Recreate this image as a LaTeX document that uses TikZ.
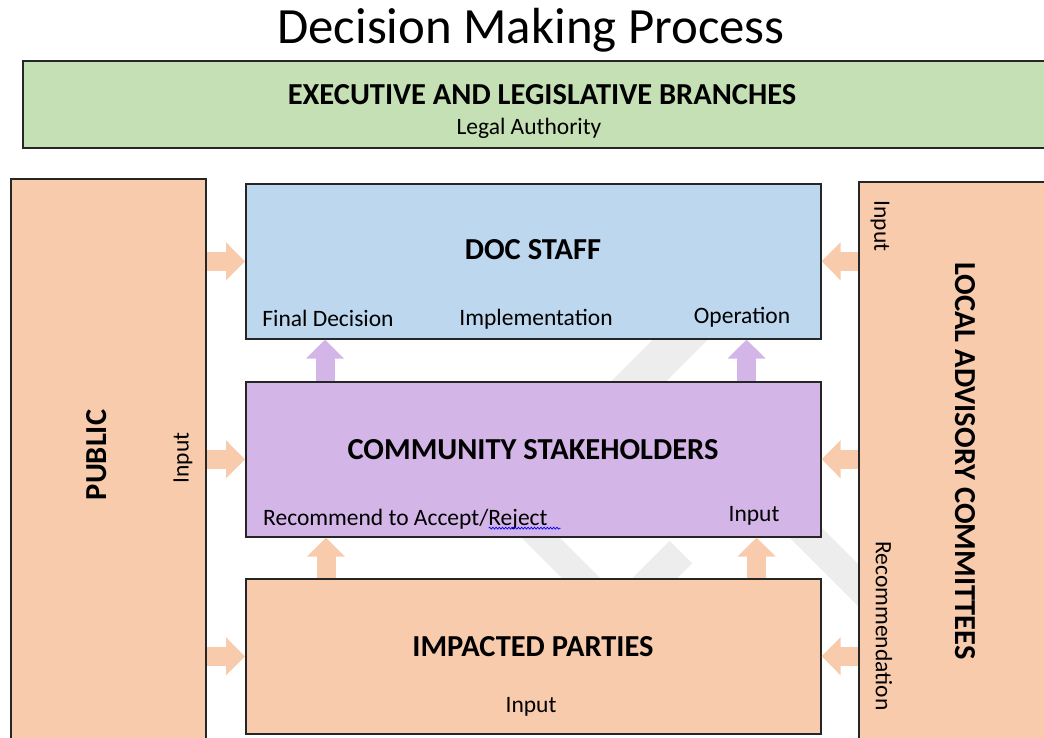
\documentclass[tikz,border=0pt]{standalone}
\usepackage{fontspec}
\setmainfont{Carlito}
\usepackage{xcolor}
\usepackage{tikz}
\usetikzlibrary{arrows.meta}
\usetikzlibrary{calc}
\usetikzlibrary{decorations.pathmorphing}
\definecolor{lgreen}{HTML}{C5E0B4}
\definecolor{lblue}{HTML}{BDD7EE}
\definecolor{lpurple}{HTML}{D4B5E8}
\definecolor{lorange}{HTML}{F8CBAD}
\colorlet{wmgray}{gray!14}
\newcommand\headsize{\fontsize{30.5}{36}\selectfont}
\newcommand\subsize{\fontsize{23.5}{28}\selectfont}
\tikzstyle{box}=[draw=black!85,line width=1.6pt,anchor=north west,inner sep=0pt]
\tikzstyle{head}=[font=\headsize\bfseries,inner sep=0pt]
\tikzstyle{sub}=[font=\subsize,inner sep=0pt]
\tikzstyle{fat}=[line width=19pt,-{Triangle[length=19pt,width=37pt]}]
\tikzstyle{spell}=[blue,line width=.7pt,decorate,decoration={snake,amplitude=1pt,segment length=3.2pt}]

\begin{document}
\begin{tikzpicture}[x=1pt,y=-1pt]
	\useasboundingbox (0,0) rectangle (1044,737);
	% faint background marks
	\draw[wmgray,line width=39pt] (700,320) -- (600,420);
	\draw[wmgray,line width=32pt] (681,552) -- (600,633);
	\draw[wmgray,line width=27pt] (460,457) -- (640,637);
	\draw[wmgray,line width=30pt] (760,487) -- (900,627);
	% boxes
	\node[box,fill=lgreen,minimum width=1040pt,minimum height=87pt] (exec) at (22,60) {};
	\node[box,fill=lorange,minimum width=195pt,minimum height=580pt] (pub) at (10,178) {};
	\node[box,fill=lblue,minimum width=575pt,minimum height=155pt] (doc) at (245,183) {};
	\node[box,fill=lpurple,minimum width=575pt,minimum height=155pt] (comm) at (245,381) {};
	\node[box,fill=lorange,minimum width=575pt,minimum height=155pt] (imp) at (245,578) {};
	\node[box,fill=lorange,minimum width=200pt,minimum height=580pt] (lac) at (858,181) {};
	% texts
	\node[font=\fontsize{50.8}{60}\selectfont,inner sep=0pt] (title) at (531,30) {Decision Making Process};
	\node[head] (exech) at (542,95) {EXECUTIVE AND LEGISLATIVE BRANCHES};
	\node[sub] (execs) at (529,128) {Legal Authority};
	\node[head] (doch) at (533,250) {DOC STAFF};
	\node[sub] (final) at (328,318) {Final Decision};
	\node[sub] (impl) at (536,319) {Implementation};
	\node[sub] (oper) at (742,317) {Operation};
	\node[head] (commh) at (533,450) {COMMUNITY STAKEHOLDERS};
	\node[sub,anchor=west] (rec) at (263,519) {Recommend to Accept/Reject};
	\node[sub] (comin) at (754,516) {Input};
	\node[head] (imph) at (533,647) {IMPACTED PARTIES};
	\node[sub] (impin) at (531,707) {Input};
	\node[head,rotate=90] (pubh) at (97,455) {PUBLIC};
	\node[sub,rotate=90] (pubin) at (183,458) {Input};
	\node[head,rotate=-90] (lach) at (965,461) {LOCAL ADVISORY COMMITTEES};
	\node[sub,rotate=-90] (lacin) at (880,226) {Input};
	\node[sub,rotate=-90] (lacrec) at (884,626) {Recommendation};
	\draw[spell] ([xshift=-59pt,yshift=-3pt]rec.base east) -- ([xshift=13pt,yshift=-3pt]rec.base east);
	% arrows
	\foreach \t in {doc,comm,imp} {
		\draw[fat,lorange] (pub.east |- \t.west) -- (\t.west);
		\draw[fat,lorange] (lac.west |- \t.east) -- (\t.east);
	}
	\draw[fat,lpurple] ([xshift=80pt]comm.north west) -- ([xshift=80pt]doc.south west);
	\draw[fat,lpurple] ([xshift=-75pt]comm.north east) -- ([xshift=-75pt]doc.south east);
	\draw[fat,lorange] ([xshift=81pt]imp.north west) -- ([xshift=81pt]comm.south west);
	\draw[fat,lorange] ([xshift=-65pt]imp.north east) -- ([xshift=-65pt]comm.south east);
\end{tikzpicture}
\end{document}
